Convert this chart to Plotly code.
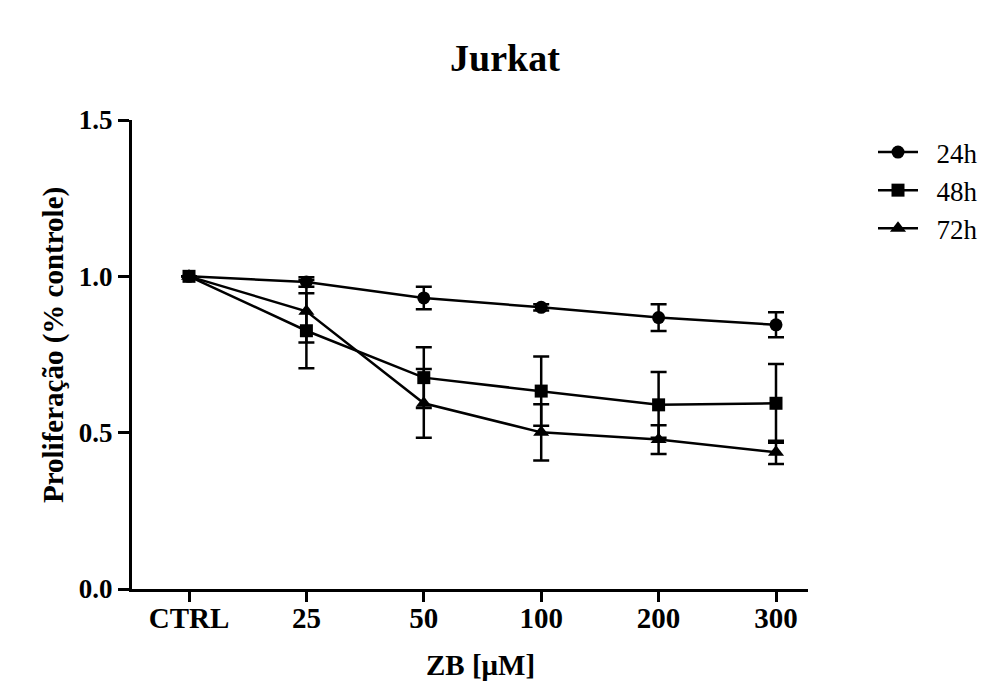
import plotly.graph_objects as go

categories = ["CTRL", "25", "50", "100", "200", "300"]
series_names = ["24h", "48h", "72h"]
values_24h = [1.0, 0.982, 0.931, 0.901, 0.868, 0.845]
err_24h = [0.0, 0.015, 0.036, 0.01, 0.043, 0.04]
values_48h = [1.0, 0.826, 0.676, 0.633, 0.589, 0.594]
err_48h = [0.0, 0.12, 0.097, 0.111, 0.105, 0.126]
values_72h = [1.0, 0.888, 0.594, 0.501, 0.478, 0.437]
err_72h = [0.0, 0.10, 0.11, 0.09, 0.046, 0.037]
y_ticks = [0.0, 0.5, 1.0, 1.5]
y_tick_labels = ["0.0", "0.5", "1.0", "1.5"]

font_family = "Liberation Serif, Times New Roman, serif"
symbols = ["circle", "square", "triangle-up"]
sizes = [13, 13, 14]

L, R, T, B = 132, 189, 120, 108
W, H = 997, 697
pw, ph = W - L - R, H - T - B

fig = go.Figure()
for name, vals, errs, sym, sz in zip(series_names,
                                     [values_24h, values_48h, values_72h],
                                     [err_24h, err_48h, err_72h], symbols, sizes):
    fig.add_trace(go.Scatter(
        x=categories, y=vals, name="\u2002" + name, mode="lines+markers",
        line=dict(color="black", width=2.5),
        marker=dict(symbol=sym, size=sz, color="black"),
        error_y=dict(type="data", array=errs, visible=True, color="black",
                     thickness=2.5, width=8),
    ))

fig.update_layout(
    width=W, height=H,
    margin=dict(l=L, r=R, t=T, b=B),
    paper_bgcolor="white", plot_bgcolor="white",
    font=dict(family=font_family, color="black"),
    title=dict(text="<b>Jurkat</b>", x=505 / W, xref="container", xanchor="center",
               y=1 - 58 / H, yanchor="middle", yref="container",
               font=dict(size=38, family=font_family, color="black")),
    showlegend=True,
    legend=dict(x=(873 - L) / pw, y=1.0 - (128 - T) / ph, xanchor="left", yanchor="top",
                font=dict(size=27, family=font_family, color="black"),
                bgcolor="rgba(0,0,0,0)", itemwidth=40, tracegroupgap=0),
    annotations=[
        dict(text="<b>ZB [μM]</b>", xref="paper", yref="paper",
             x=(480 - L) / pw, y=-(665 - (T + ph)) / ph, xanchor="center", yanchor="middle",
             showarrow=False, font=dict(size=29, family=font_family, color="black")),
        dict(text="<b>Proliferação (% controle)</b>", xref="paper", yref="paper",
             x=(53 - L) / pw, y=1 - (345 - T) / ph, xanchor="center", yanchor="middle",
             textangle=-90, showarrow=False,
             font=dict(size=29, family=font_family, color="black")),
    ],
)

fig.update_xaxes(
    type="category", range=[-(189 - L) / 117.4, 5 + (808 - 776) / 117.4],
    showline=True, linecolor="black", linewidth=3,
    ticks="outside", ticklen=10, tickwidth=2.5, tickcolor="black",
    showgrid=False, zeroline=False, ticklabelstandoff=-9,
    tickfont=dict(size=29, family=font_family, color="black"),
    tickprefix="<b>", ticksuffix="</b>",
)
fig.update_yaxes(
    range=[0, 1.5], tickvals=y_ticks, ticktext=["<b>%s</b>" % t for t in y_tick_labels],
    showline=True, linecolor="black", linewidth=3,
    ticks="outside", ticklen=11, tickwidth=3, tickcolor="black",
    showgrid=False, zeroline=False,
    tickfont=dict(size=27, family=font_family, color="black"),
)

fig.write_html("out.html")
